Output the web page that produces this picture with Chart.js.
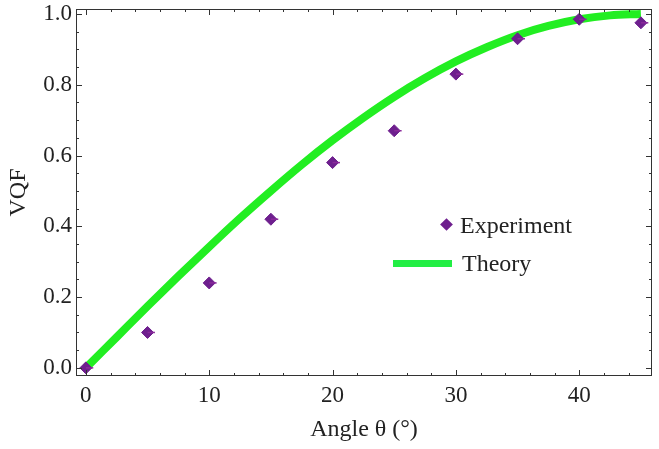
<!DOCTYPE html>
<html>
<head>
<meta charset="utf-8">
<script src="https://cdn.jsdelivr.net/npm/chart.js@4/dist/chart.umd.min.js"></script>
<style>
  body { margin: 0; background: #fff; }
  #wrap { position: relative; width: 659px; height: 449px; }
  .leg { position: absolute; font-family: "Liberation Serif", serif; font-size: 24px; line-height: 28px; color: #222; }
  .mark { position: absolute; }
</style>
</head>
<body>
<div id="wrap">
  <canvas id="vqfChart" width="659" height="449"></canvas>
  <div class="mark" style="left:442px; top:220px; width:9px; height:9px; background:#6e1f8e; transform:rotate(45deg);"></div>
  <div class="leg" style="left:460px; top:211px;">Experiment</div>
  <div class="mark" style="left:393px; top:260px; width:59px; height:7px; background:#22ee44;"></div>
  <div class="leg" style="left:462px; top:249px;">Theory</div>
</div>
<script>
// data
const angles = [0, 5, 10, 15, 20, 25, 30, 35, 40, 45];
const vqfExp = [0.0, 0.10, 0.24, 0.42, 0.58, 0.67, 0.83, 0.93, 0.985, 0.975];
const angleErr = [0.6, 0.6, 0.6, 0.6, 0.6, 0.6, 0.6, 0.6, 0.6, 0.6];
const theoryAngles = [0, 2.5, 5, 7.5, 10, 12.5, 15, 17.5, 20, 22.5, 25, 27.5, 30, 32.5, 35, 37.5, 40, 42.5, 45];
const vqfTheory = [0.0, 0.087, 0.174, 0.259, 0.342, 0.423, 0.50, 0.574, 0.643, 0.707, 0.766, 0.819, 0.866, 0.906, 0.940, 0.966, 0.985, 0.996, 1.0];
const xTicks = [0, 10, 20, 30, 40];
const yTicks = [0.0, 0.2, 0.4, 0.6, 0.8, 1.0];

const serif = "'Liberation Serif', 'Times New Roman', serif";

// frame, inward ticks and small error tails
const framePlugin = {
    id: 'frame',
    afterDatasetsDraw(chart) {
        const ctx = chart.ctx;
        const a = chart.chartArea;
        const xs = chart.scales.x, ys = chart.scales.y;
        ctx.save();
        // error tails
        ctx.strokeStyle = '#8a2a9a';
        ctx.lineWidth = 1.5;
        angles.forEach((v, i) => {
            const py = ys.getPixelForValue(vqfExp[i]);
            ctx.beginPath();
            ctx.moveTo(xs.getPixelForValue(v), py);
            ctx.lineTo(xs.getPixelForValue(v + angleErr[i]), py);
            ctx.stroke();
        });
        ctx.strokeStyle = '#333';
        ctx.lineWidth = 1;
        ctx.strokeRect(a.left + 0.5, a.top + 0.5, a.width - 1, a.height - 1);
        ctx.beginPath();
        for (let v = 0; v <= 45; v += 2) {
            const px = Math.round(xs.getPixelForValue(v)) + 0.5;
            const len = v % 10 === 0 ? 6 : 3;
            ctx.moveTo(px, a.bottom); ctx.lineTo(px, a.bottom - len);
            ctx.moveTo(px, a.top); ctx.lineTo(px, a.top + len);
        }
        for (let k = 0; k <= 20; k++) {
            const py = Math.round(ys.getPixelForValue(k * 0.05)) + 0.5;
            const len = k % 4 === 0 ? 6 : 3;
            ctx.moveTo(a.left, py); ctx.lineTo(a.left + len, py);
            ctx.moveTo(a.right, py); ctx.lineTo(a.right - len, py);
        }
        ctx.stroke();
        ctx.restore();
    }
};

new Chart(document.getElementById('vqfChart'), {
    type: 'scatter',
    data: {
        datasets: [
            {
                label: 'Experiment',
                data: angles.map((a, i) => ({ x: a, y: vqfExp[i] })),
                pointStyle: 'rectRot',
                pointRadius: 6,
                backgroundColor: '#6e1f8e',
                borderColor: '#6e1f8e',
                order: 0
            },
            {
                label: 'Theory',
                type: 'line',
                data: theoryAngles.map((a, i) => ({ x: a, y: vqfTheory[i] })),
                borderColor: '#22ee22',
                borderWidth: 8,
                pointRadius: 0,
                cubicInterpolationMode: 'monotone',
                fill: false,
                order: 1
            }
        ]
    },
    options: {
        responsive: false,
        animation: false,
        layout: { padding: { top: 9, right: 4, left: 0, bottom: 0 } },
        plugins: { legend: { display: false }, tooltip: { enabled: false } },
        scales: {
            x: {
                type: 'linear',
                min: -0.8,
                max: 45.9,
                afterBuildTicks: s => { s.ticks = xTicks.map(v => ({ value: v })); },
                afterFit: s => { s.height = 73; s.paddingLeft = 0; s.paddingRight = 0; },
                grid: { display: false, drawTicks: false },
                border: { display: false },
                ticks: { color: '#222', font: { family: serif, size: 23 }, padding: 6, maxRotation: 0 },
                title: { display: true, text: 'Angle θ (°)', color: '#222', font: { family: serif, size: 24 }, padding: { top: 2, bottom: 5 } }
            },
            y: {
                min: -0.023,
                max: 1.014,
                afterBuildTicks: s => { s.ticks = yTicks.map(v => ({ value: v })); },
                afterFit: s => { s.width = 76; s.paddingTop = 0; s.paddingBottom = 0; },
                grid: { display: false, drawTicks: false },
                border: { display: false },
                ticks: { color: '#222', font: { family: serif, size: 23 }, padding: 4, callback: v => v.toFixed(1) },
                title: { display: true, text: 'VQF', color: '#222', font: { family: serif, size: 24 }, padding: { top: 4, bottom: 2 } }
            }
        }
    },
    plugins: [framePlugin]
});
</script>
</body>
</html>
